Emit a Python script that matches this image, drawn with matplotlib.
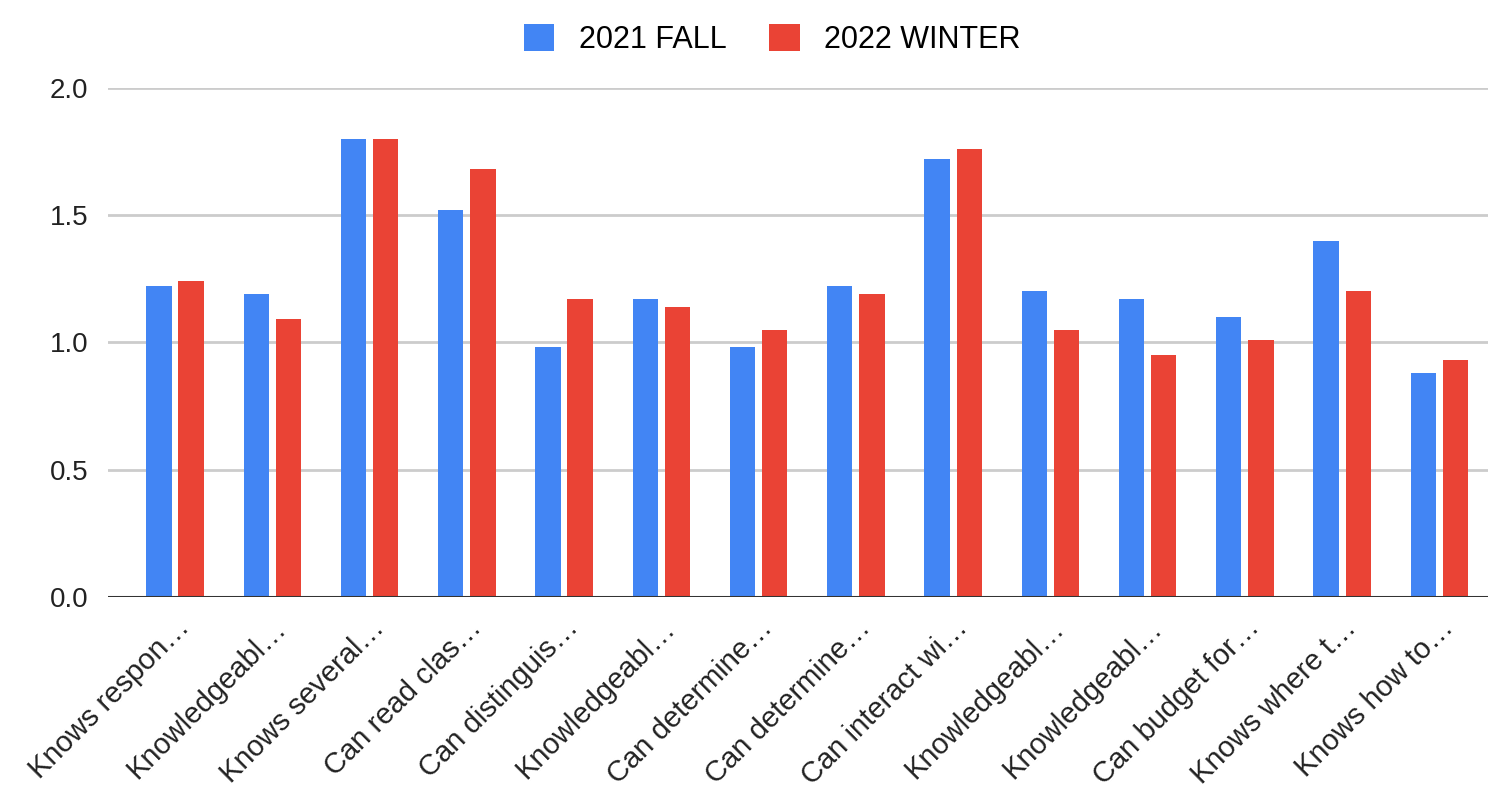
#! /usr/bin/env python3
# coding: utf-8

import numpy as np
import matplotlib

matplotlib.use("Agg")
import matplotlib.pyplot as plt

categories = [
    "Knows respon…",
    "Knowledgeabl…",
    "Knows several…",
    "Can read clas…",
    "Can distinguis…",
    "Knowledgeabl…",
    "Can determine…",
    "Can determine…",
    "Can interact wi…",
    "Knowledgeabl…",
    "Knowledgeabl…",
    "Can budget for…",
    "Knows where t…",
    "Knows how to…",
]
fall_2021 = [1.22, 1.19, 1.80, 1.52, 0.98, 1.17, 0.98, 1.22, 1.72, 1.20, 1.17, 1.10, 1.40, 0.88]
winter_2022 = [1.24, 1.09, 1.80, 1.68, 1.17, 1.14, 1.05, 1.19, 1.76, 1.05, 0.95, 1.01, 1.20, 0.93]
y_ticks = [0.0, 0.5, 1.0, 1.5, 2.0]

BLUE = "#4285F4"
RED = "#EA4335"

plt.rcParams["font.family"] = ["Liberation Sans", "DejaVu Sans"]

fig = plt.figure(figsize=(14.91, 7.98), dpi=100)
ax = fig.add_axes([0.0724, 0.252, 0.9256, 0.638])

x = np.arange(len(categories))
width = 0.26
ax.bar(x - 0.165, fall_2021, width, color=BLUE, label="2021 FALL", zorder=3)
ax.bar(x + 0.165, winter_2022, width, color=RED, label="2022 WINTER", zorder=3)

ax.set_ylim(0, 2.0)
ax.set_xlim(-0.69, 13.5)
ax.set_yticks(y_ticks)
ax.set_yticklabels(["{:.1f}".format(v) for v in y_ticks], fontsize=20, color="#222222")
ax.set_xticks(x)
ax.set_xticklabels(categories, rotation=45, ha="right", rotation_mode="anchor",
                   fontsize=21, color="#222222")
ax.tick_params(axis="both", length=0)
ax.tick_params(axis="y", pad=14)
ax.tick_params(axis="x", pad=12)

for spine in ax.spines.values():
    spine.set_visible(False)
ax.grid(axis="y", color="#cccccc", linewidth=2, zorder=0)
ax.axhline(0, color="#333333", linewidth=2.2, zorder=4)

fig.legend(loc="upper center", bbox_to_anchor=(0.518, 1.005), ncol=2, frameon=False,
           fontsize=22, handlelength=1.0, handleheight=1.0, handletextpad=0.8,
           columnspacing=1.4)

fig.savefig("out.png", dpi=100)
